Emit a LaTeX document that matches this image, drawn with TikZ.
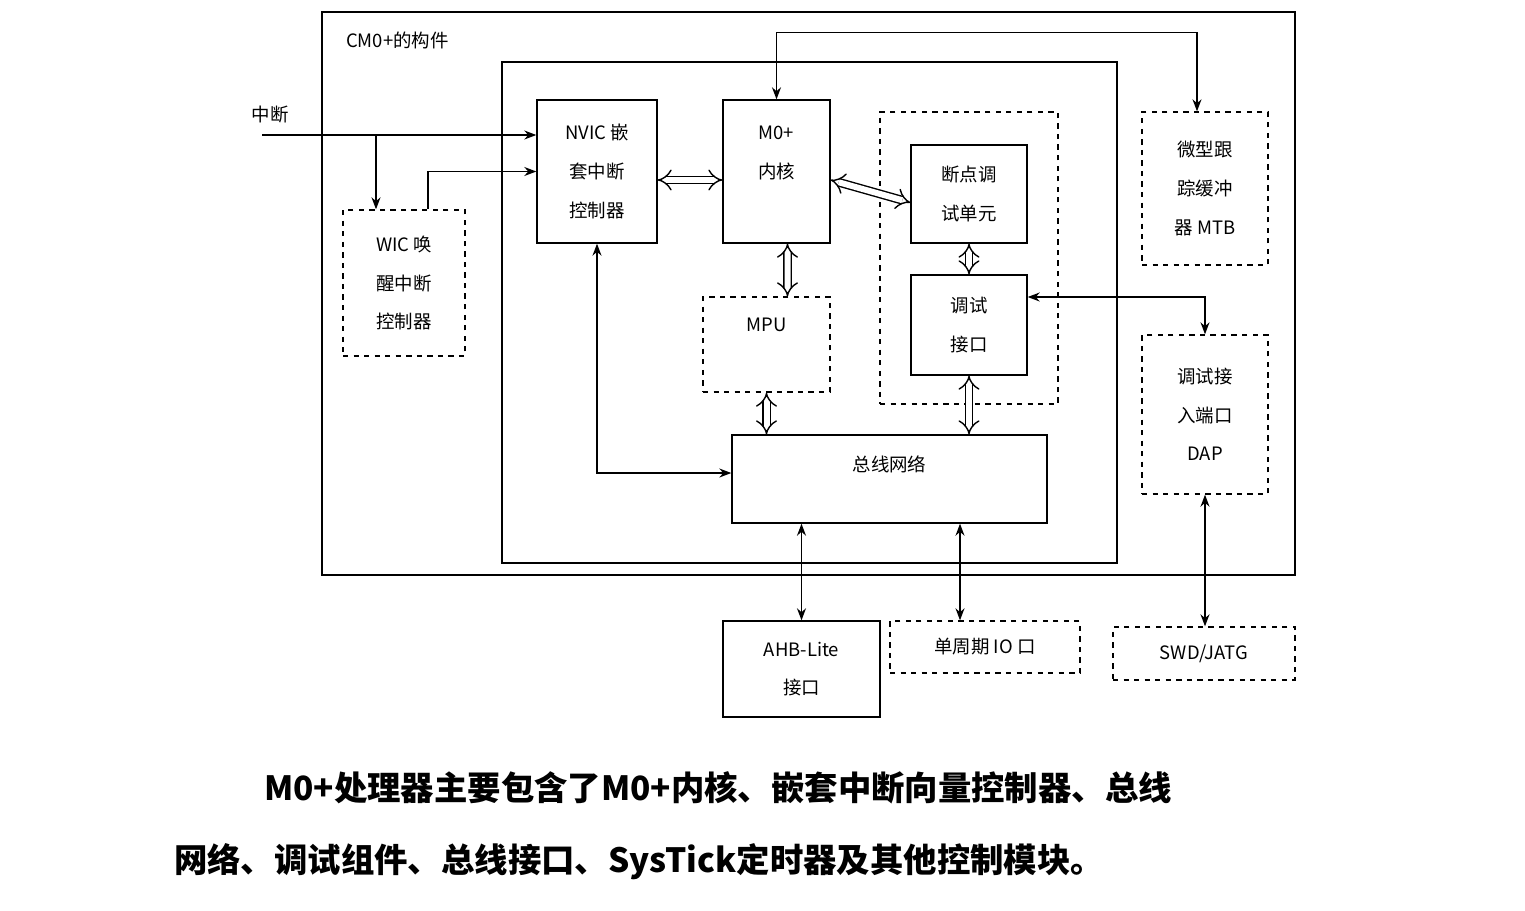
\documentclass[tikz,border=0pt]{standalone}
\usepackage{fontspec}
\setmainfont{Liberation Serif}
\newfontfamily\cjk{Noto Sans CJK SC}
\usetikzlibrary{arrows.meta,calc}
\begin{document}
\begin{tikzpicture}[x=0.02cm,y=-0.02cm,
  box/.style={draw, thick, align=center, inner sep=0pt, font=\cjk\fontsize{10.5}{22}\selectfont},
  dbox/.style={box, dashed},
  arr/.style={thick, {Stealth[length=0.24cm]}-{Stealth[length=0.24cm]}},
  sarr/.style={thick, -{Stealth[length=0.24cm]}},
  fat/.style={double, double distance=0.12cm, thick, {Implies}-{Implies}},
  txt/.style={font=\cjk\fontsize{10.5}{22}\selectfont}]
\useasboundingbox (0,0) rectangle (1525,910);

% frames
\node[box, minimum width=19.46cm, minimum height=11.26cm] (outer) at (808.5,293.5) {};
\node[txt, anchor=west] (title) at (340,40) {CM0+的构件};
\node[box, minimum width=12.3cm, minimum height=10.02cm] (inner) at (809.5,312.5) {};

% blocks
\node[box, minimum width=2.4cm, minimum height=2.86cm] (nvic) at (597,171.5) {NVIC 嵌\\套中断\\控制器};
\node[box, minimum width=2.14cm, minimum height=2.86cm] (m0) at (776.5,171.5) {M0+\\内核\\ };
\node[dbox, minimum width=3.56cm, minimum height=5.84cm] (dbg grp) at (969,258) {};
\node[box, minimum width=2.32cm, minimum height=1.96cm] (bp) at (969,194) {断点调\\试单元};
\node[box, minimum width=2.32cm, minimum height=2.0cm] (dbg) at (969,325) {调试\\接口};
\node[dbox, minimum width=2.54cm, minimum height=1.9cm] (mpu) at (766.5,344.5) {MPU\\ };
\node[box, minimum width=6.3cm, minimum height=1.76cm,
  label={[txt, anchor=north, yshift=-0.3cm]north:总线网络}] (bus) at (889.5,479) {};
\node[dbox, minimum width=2.44cm, minimum height=2.92cm] (wic) at (404,283) {WIC 唤\\醒中断\\控制器};
\node[dbox, minimum width=2.52cm, minimum height=3.06cm] (mtb) at (1205,188.5) {微型跟\\踪缓冲\\器 MTB};
\node[dbox, minimum width=2.52cm, minimum height=3.18cm] (dap) at (1205,414.5) {调试接\\入端口\\DAP};
\node[box, minimum width=3.14cm, minimum height=1.92cm] (ahb) at (801.5,669) {AHB-Lite\\接口};
\node[dbox, minimum width=3.8cm, minimum height=1.04cm] (io) at (985,647) {单周期 IO 口};
\node[dbox, minimum width=3.64cm, minimum height=1.06cm] (swd) at (1204,653.5) {SWD/JATG};

% interrupt input
\node[txt] (irqlbl) at (270,115) {中断};
\coordinate (irq) at (262,135);
\coordinate (br) at (376,135);
\draw[sarr] (irq) -- (nvic.west |- irq);
\draw[sarr] (br) -- (wic.north -| br);
\draw[sarr] ([xshift=0.48cm]wic.north) |- (nvic.west);

% internal buses
\draw[fat] ([yshift=-0.17cm]nvic.east) -- ([yshift=-0.17cm]m0.west);
\draw[fat] ([yshift=-0.17cm]m0.east) -- ([yshift=-0.17cm]bp.west);
\draw[fat] ([xshift=0.22cm]m0.south) -- ([xshift=0.42cm]mpu.north);
\draw[fat] (mpu.south) -- (mpu.south |- bus.north);
\draw[fat] (bp.south) -- (dbg.north);
\draw[fat] (dbg.south) -- (dbg.south |- bus.north);

% connectors
\coordinate (iotop) at ([xshift=-0.5cm]io.north);
\draw[arr] (m0.north) -- ++(0,-67) -| ([xshift=-0.16cm]mtb.north);
\draw[arr] (nvic.south) |- ([yshift=0.12cm]bus.west);
\draw[arr] ([yshift=0.56cm]dbg.east) -| (dap.north);
\draw[arr] (bus.south -| ahb.north) -- (ahb.north);
\draw[arr] (bus.south -| iotop) -- (iotop);
\draw[arr] (dap.south) -- (dap.south |- swd.north);

% caption
\node[anchor=west, font=\cjk\bfseries\fontsize{19}{24}\selectfont] (cap1) at (258,788)
  {M0+处理器主要包含了M0+内核、嵌套中断向量控制器、总线};
\node[anchor=west, font=\cjk\bfseries\fontsize{19}{24}\selectfont] (cap2) at (168,862)
  {网络、调试组件、总线接口、SysTick定时器及其他控制模块。};
\end{tikzpicture}
\end{document}
